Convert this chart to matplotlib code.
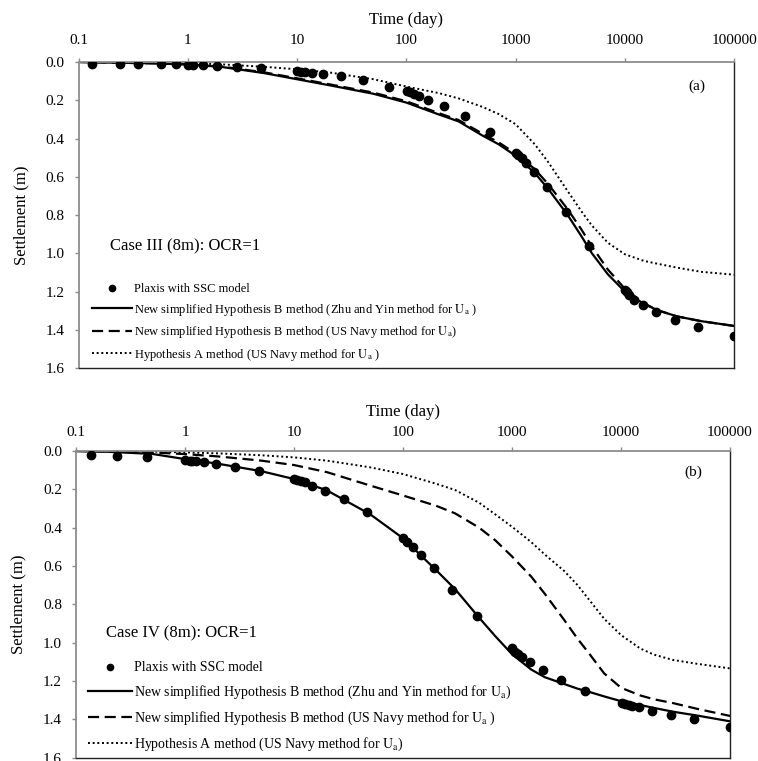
import numpy as np
import matplotlib.pyplot as plt
from matplotlib.ticker import FixedLocator, FixedFormatter, FormatStrFormatter, NullLocator

plt.rcParams['font.family'] = ['Liberation Serif', 'DejaVu Serif']
plt.rcParams['mathtext.fontset'] = 'stix'

# Caso (a): Case III
t_pts_a = [0.134, 0.241, 0.35, 0.565, 0.78, 1.01, 1.12, 1.37, 1.84, 2.8, 4.68, 10.0, 10.8,
           11.8, 13.8, 17.4, 25.1, 39.8, 69.8, 100.7, 108, 118, 130, 158, 222, 344, 582,
           1000, 1057, 1135, 1234, 1470, 1946, 2884, 4688, 10070, 10370, 10960, 12170,
           14690, 19220, 28510, 47210, 100000]
s_pts_a = [0.009, 0.009, 0.009, 0.01, 0.012, 0.014, 0.014, 0.017, 0.021, 0.024, 0.033, 0.047,
           0.05, 0.052, 0.057, 0.064, 0.075, 0.096, 0.129, 0.151, 0.158, 0.167, 0.178, 0.197,
           0.228, 0.282, 0.367, 0.477, 0.487, 0.503, 0.526, 0.574, 0.656, 0.785, 0.964, 1.194,
           1.205, 1.217, 1.244, 1.273, 1.309, 1.351, 1.387, 1.431]

t_line = [0.1, 0.2, 0.5, 1, 2, 5, 10, 20, 50, 100, 200, 300, 500, 700, 1000, 1500, 2000,
          3000, 4000, 5000, 7000, 10000, 15000, 20000, 30000, 50000, 100000]
zhu_a = [0.0, 0.003, 0.007, 0.013, 0.025, 0.058, 0.09, 0.122, 0.166, 0.212, 0.275, 0.31,
         0.385, 0.43, 0.49, 0.58, 0.665, 0.8, 0.91, 1.0, 1.11, 1.2, 1.265, 1.298, 1.33,
         1.355, 1.38]
navy_a = [0.0, 0.003, 0.007, 0.012, 0.023, 0.054, 0.085, 0.117, 0.16, 0.205, 0.268, 0.303,
          0.375, 0.42, 0.478, 0.56, 0.64, 0.77, 0.875, 0.965, 1.085, 1.185, 1.262, 1.298,
          1.33, 1.355, 1.38]
hypa_a = [0.0, 0.001, 0.003, 0.006, 0.012, 0.025, 0.038, 0.055, 0.09, 0.128, 0.163, 0.19,
          0.235, 0.272, 0.325, 0.43, 0.525, 0.675, 0.78, 0.855, 0.945, 1.005, 1.04, 1.055,
          1.075, 1.097, 1.112]

# Caso (b): Case IV
t_pts_b = [0.137, 0.238, 0.446, 1.01, 1.1, 1.15, 1.27, 1.48, 1.92, 2.86, 4.74, 10.0, 10.6,
           11.6, 12.6, 14.6, 19.2, 28.8, 46.8, 100.6, 108, 124, 145, 192, 283, 474, 993,
           1064, 1143, 1227, 1462, 1914, 2831, 4700, 10140, 10900, 11800, 12700, 14720,
           19230, 28580, 46800, 100000]
s_pts_b = [0.022, 0.026, 0.033, 0.047, 0.05, 0.051, 0.052, 0.057, 0.068, 0.082, 0.103, 0.146,
           0.151, 0.157, 0.164, 0.181, 0.207, 0.25, 0.32, 0.455, 0.473, 0.499, 0.544, 0.612,
           0.723, 0.861, 1.029, 1.047, 1.059, 1.073, 1.099, 1.142, 1.195, 1.252, 1.316, 1.32,
           1.325, 1.33, 1.337, 1.355, 1.377, 1.4, 1.438]

zhu_b = [0.0, 0.004, 0.015, 0.042, 0.066, 0.105, 0.146, 0.205, 0.33, 0.455, 0.62, 0.72,
         0.87, 0.965, 1.06, 1.14, 1.18, 1.215, 1.24, 1.255, 1.28, 1.305, 1.325, 1.34, 1.36,
         1.38, 1.41]
navy_b = [0.0, 0.002, 0.007, 0.016, 0.028, 0.05, 0.073, 0.11, 0.18, 0.232, 0.285, 0.325,
          0.4, 0.465, 0.55, 0.655, 0.745, 0.88, 0.98, 1.05, 1.16, 1.235, 1.275, 1.295,
          1.315, 1.345, 1.382]
hypa_b = [0.0, 0.001, 0.003, 0.007, 0.012, 0.022, 0.033, 0.05, 0.085, 0.12, 0.17, 0.203,
          0.27, 0.33, 0.395, 0.475, 0.54, 0.625, 0.7, 0.77, 0.875, 0.96, 1.03, 1.062, 1.09,
          1.11, 1.134]

x_ticks = [0.1, 1, 10, 100, 1000, 10000, 100000]
x_labels = ['0.1', '1', '10', '100', '1000', '10000', '100000']
y_ticks = [0.0, 0.2, 0.4, 0.6, 0.8, 1.0, 1.2, 1.4, 1.6]

lbl_a = ['Plaxis with SSC model',
         r'New simplified Hypothesis B method (Zhu and Yin method for $\mathrm{U_a}$ )',
         r'New simplified Hypothesis B method (US Navy method for $\mathrm{U_a}$)',
         r'Hypothesis A method (US Navy method for $\mathrm{U_a}$ )']
lbl_b = ['Plaxis with SSC model',
         r'New simplified Hypothesis B method (Zhu and Yin method for $\mathrm{U_a}$)',
         r'New simplified Hypothesis B method (US Navy method for $\mathrm{U_a}$ )',
         r'Hypothesis A method (US Navy method for $\mathrm{U_a}$)']

fig = plt.figure(figsize=(7.58, 7.61), dpi=100)
ax1 = fig.add_axes([0.1036, 0.5164, 0.8648, 0.4021])
ax2 = fig.add_axes([0.1003, 0.0043, 0.8628, 0.4030])

gris = '#8c8c8c'


def dibujar(ax, tp, sp, zhu, navy, hypa, etiquetas, caso, letra, ley_fs, ley_pos, ley_sp,
            caso_pos, letra_pos, tick_pad):
    ax.plot(tp, sp, 'o', color='black', ms=6, label=etiquetas[0], zorder=4)
    ax.plot(t_line, zhu, '-', color='black', lw=1.6, label=etiquetas[1])
    ax.plot(t_line, navy, color='black', lw=1.6, ls=(0, (5, 2.5)), label=etiquetas[2])
    ax.plot(t_line, hypa, color='black', lw=1.4, ls=(0, (1, 1.4)), label=etiquetas[3])

    ax.set_xscale('log')
    ax.set_xlim(0.1, 100000)
    ax.set_ylim(1.6, 0.0)
    ax.xaxis.set_major_locator(FixedLocator(x_ticks))
    ax.xaxis.set_major_formatter(FixedFormatter(x_labels))
    ax.xaxis.set_minor_locator(NullLocator())
    ax.set_yticks(y_ticks)
    ax.yaxis.set_major_formatter(FormatStrFormatter('%.1f'))

    ax.xaxis.tick_top()
    ax.xaxis.set_label_position('top')
    ax.tick_params(axis='x', direction='out', length=3, width=1, color=gris,
                   labelsize=11, pad=tick_pad)
    ax.tick_params(axis='y', direction='out', length=3, width=1, color=gris,
                   labelsize=11, pad=7)
    ax.set_xlabel('Time (day)', fontsize=12, labelpad=7)
    ax.set_ylabel('Settlement (m)', fontsize=12, labelpad=12)

    for lado in ['left', 'top']:
        ax.spines[lado].set_color(gris)
        ax.spines[lado].set_linewidth(1.3)
    for lado in ['right', 'bottom']:
        ax.spines[lado].set_color('#222222')
        ax.spines[lado].set_linewidth(1.0)

    ax.text(letra_pos[0], letra_pos[1], letra, transform=ax.transAxes, fontsize=11,
            ha='center', va='center')
    ax.text(caso_pos[0], caso_pos[1], caso, transform=ax.transAxes, fontsize=12,
            ha='left', va='center')
    ax.legend(loc='upper left', bbox_to_anchor=ley_pos, frameon=False, fontsize=ley_fs,
              handlelength=3.2, handletextpad=0.15, labelspacing=ley_sp, borderpad=0,
              borderaxespad=0, markerscale=0.75)


dibujar(ax1, t_pts_a, s_pts_a, zhu_a, navy_a, hypa_a, lbl_a, 'Case III (8m): OCR=1', '(a)',
        9, (0.02, 0.277), 0.52, (0.048, 0.399), (0.944, 0.92), 8)
dibujar(ax2, t_pts_b, s_pts_b, zhu_b, navy_b, hypa_b, lbl_b, 'Case IV (8m): OCR=1', '(b)',
        10, (0.018, 0.314), 0.64, (0.046, 0.407), (0.944, 0.93), 6)

fig.savefig('out.png', dpi=100)
